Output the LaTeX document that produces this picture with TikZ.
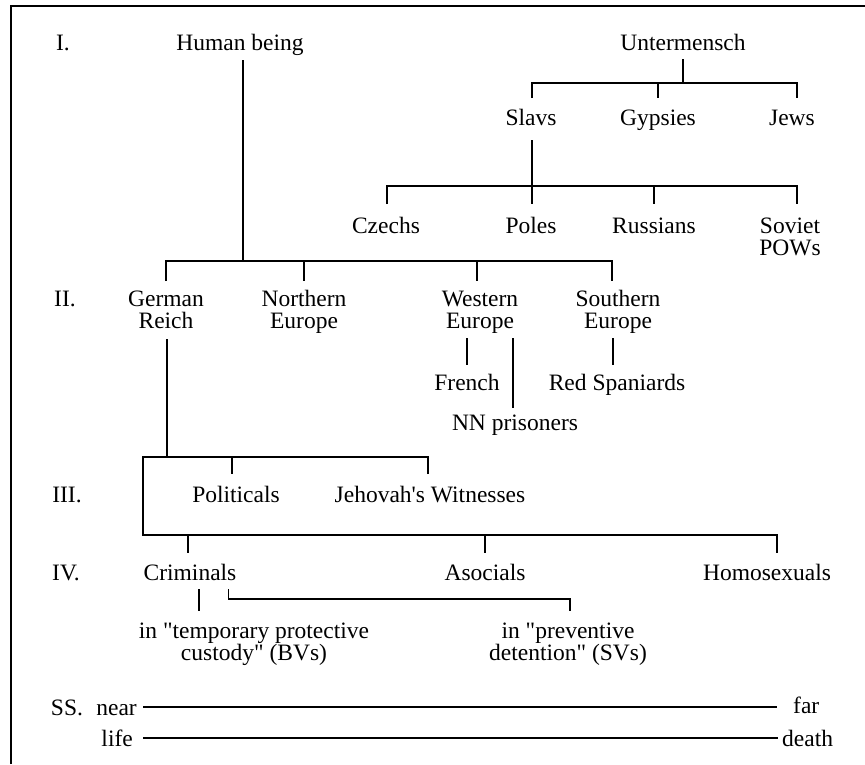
\documentclass[tikz,border=0pt]{standalone}
\usepackage{fontspec}
\setmainfont{Liberation Serif}
\begin{document}
\begin{tikzpicture}[x=1pt,y=-1pt,
  ln/.style={line width=1.6pt},
  frame/.style={line width=2pt},
  lbl/.style={inner sep=0pt, anchor=base, font=\fontsize{23.5}{21.5}\selectfont},
  two/.style={lbl, align=center}]
\useasboundingbox (0,0) rectangle (865,764);
\fill[white] (0,0) rectangle (865,764);
\draw[frame] (11,764) -- (11,6) -- (865,6);

% level labels
\node[lbl] (lI)   at (63,50)  {I.};
\node[lbl] (lII)  at (65,306) {II.};
\node[lbl] (lIII) at (67,502) {III.};
\node[lbl] (lIV)  at (66,580) {IV.};

% top row
\node[lbl] (hb) at (240,50) {Human being};
\node[lbl] (um) at (683,50) {Untermensch};
\node[lbl] (slavs) at (531,125) {Slavs};
\node[lbl] (gyp)   at (658,125) {Gypsies};
\node[lbl] (jews)  at (792,125) {Jews};
\node[lbl] (cz)  at (386,233) {Czechs};
\node[lbl] (po)  at (531,233) {Poles};
\node[lbl] (ru)  at (654,233) {Russians};
\node[two] (sov) at (790,255) {Soviet\\POWs};

% level II
\node[two] (gr) at (166,328) {German\\Reich};
\node[two] (ne) at (304,328) {Northern\\Europe};
\node[two] (we) at (480,328) {Western\\Europe};
\node[two] (se) at (618,328) {Southern\\Europe};
\node[lbl] (fr)   at (467,390) {French};
\node[lbl] (reds) at (617,390) {Red Spaniards};
\node[lbl] (nn)   at (515,430) {NN prisoners};

% level III
\node[lbl] (pol) at (236,502) {Politicals};
\node[lbl] (jw)  at (430,502) {Jehovah\textquotesingle s Witnesses};

% level IV
\node[lbl] (crim) at (190,580) {Criminals};
\node[lbl] (aso)  at (485,580) {Asocials};
\node[lbl] (homo) at (767,580) {Homosexuals};
\node[two] (bv) at (254,660) {in \textquotedbl temporary protective\\custody\textquotedbl\ (BVs)};
\node[two] (sv) at (568,660) {in \textquotedbl preventive\\detention\textquotedbl\ (SVs)};

% SS scale
\node[lbl] (ss)    at (67,715) {SS.};
\node[lbl, anchor=base east] (near)  at (137,715) {near};
\node[lbl, anchor=base west] (far)   at (793,713) {far};
\node[lbl, anchor=base east] (life)  at (133,746) {life};
\node[lbl, anchor=base west] (death) at (782,746) {death};

% y levels
\coordinate (yAs) at (0,60);   \coordinate (yA) at (0,261); \coordinate (yAt) at (0,281);
\coordinate (yBs) at (0,59);   \coordinate (yB) at (0,83);  \coordinate (yBt) at (0,98);
\coordinate (yCs) at (0,140);  \coordinate (yC) at (0,186); \coordinate (yCt) at (0,204);
\coordinate (yDs) at (0,339);  \coordinate (yD) at (0,457); \coordinate (yDt) at (0,474);
\coordinate (yE) at (0,535);   \coordinate (yEt) at (0,553);
\coordinate (yF1) at (0,338);  \coordinate (yF2) at (0,365); \coordinate (yN) at (0,408);
\coordinate (yG1) at (0,589);  \coordinate (yGb) at (0,599); \coordinate (yG2) at (0,611);
\coordinate (yH) at (0,707);   \coordinate (yL) at (0,738);
\coordinate (kD) at (143,457); \coordinate (kE) at (143,535);

% Human being tree
\draw[ln] ([xshift=3pt]hb |- yAs) -- ([xshift=3pt]hb |- yA);
\draw[ln] (gr |- yAt) -- (gr |- yA) -- ([xshift=-6pt]se |- yA) -- ([xshift=-6pt]se |- yAt);
\draw[ln] (ne |- yA) -- (ne |- yAt);
\draw[ln] ([xshift=-3pt]we |- yA) -- ([xshift=-3pt]we |- yAt);

% Untermensch tree
\draw[ln] (um |- yBs) -- (um |- yB);
\draw[ln] ([xshift=1pt]slavs |- yBt) -- ([xshift=1pt]slavs |- yB) -- ([xshift=5pt]jews |- yB) -- ([xshift=5pt]jews |- yBt);
\draw[ln] (gyp |- yB) -- (gyp |- yBt);

% Slavs tree
\draw[ln] ([xshift=1pt]slavs |- yCs) -- ([xshift=1pt]po |- yCt);
\draw[ln] ([xshift=1pt]cz |- yCt) -- ([xshift=1pt]cz |- yC) -- ([xshift=7pt]sov |- yC) -- ([xshift=7pt]sov |- yCt);
\draw[ln] (ru |- yC) -- (ru |- yCt);

% Western / Southern Europe
\draw[ln] (fr |- yF1) -- (fr |- yF2);
\draw[ln] ([xshift=-2pt]nn |- yF1) -- ([xshift=-2pt]nn |- yN);
\draw[ln] ([xshift=-4pt]reds |- yF1) -- ([xshift=-4pt]reds |- yF2);

% German Reich tree
\draw[ln] ([xshift=1pt]gr |- yDs) -- ([xshift=1pt]gr |- yD);
\draw[ln] ([xshift=-2pt]jw |- yDt) -- ([xshift=-2pt]jw |- yD) -- (kD) -- (kE) -- ([xshift=10pt]homo |- yE) -- ([xshift=10pt]homo |- yEt);
\draw[ln] ([xshift=-4pt]pol |- yD) -- ([xshift=-4pt]pol |- yDt);
\draw[ln] ([xshift=-2pt]crim |- yE) -- ([xshift=-2pt]crim |- yEt);
\draw[ln] (aso |- yE) -- (aso |- yEt);

% Criminals subdivisions
\draw[ln] ([xshift=9pt]crim |- yG1) -- ([xshift=9pt]crim |- yG2);
\draw[ln] ([xshift=-8pt]crim.east |- yG1) -- ([xshift=-8pt]crim.east |- yGb) -- ([xshift=2pt]sv |- yGb) -- ([xshift=2pt]sv |- yG2);

% SS scale lines
\draw[ln] ([xshift=6pt]near.east |- yH) -- ([xshift=-16pt]far.west |- yH);
\draw[ln] ([xshift=10pt]life.east |- yL) -- ([xshift=-4pt]death.west |- yL);
\end{tikzpicture}
\end{document}
